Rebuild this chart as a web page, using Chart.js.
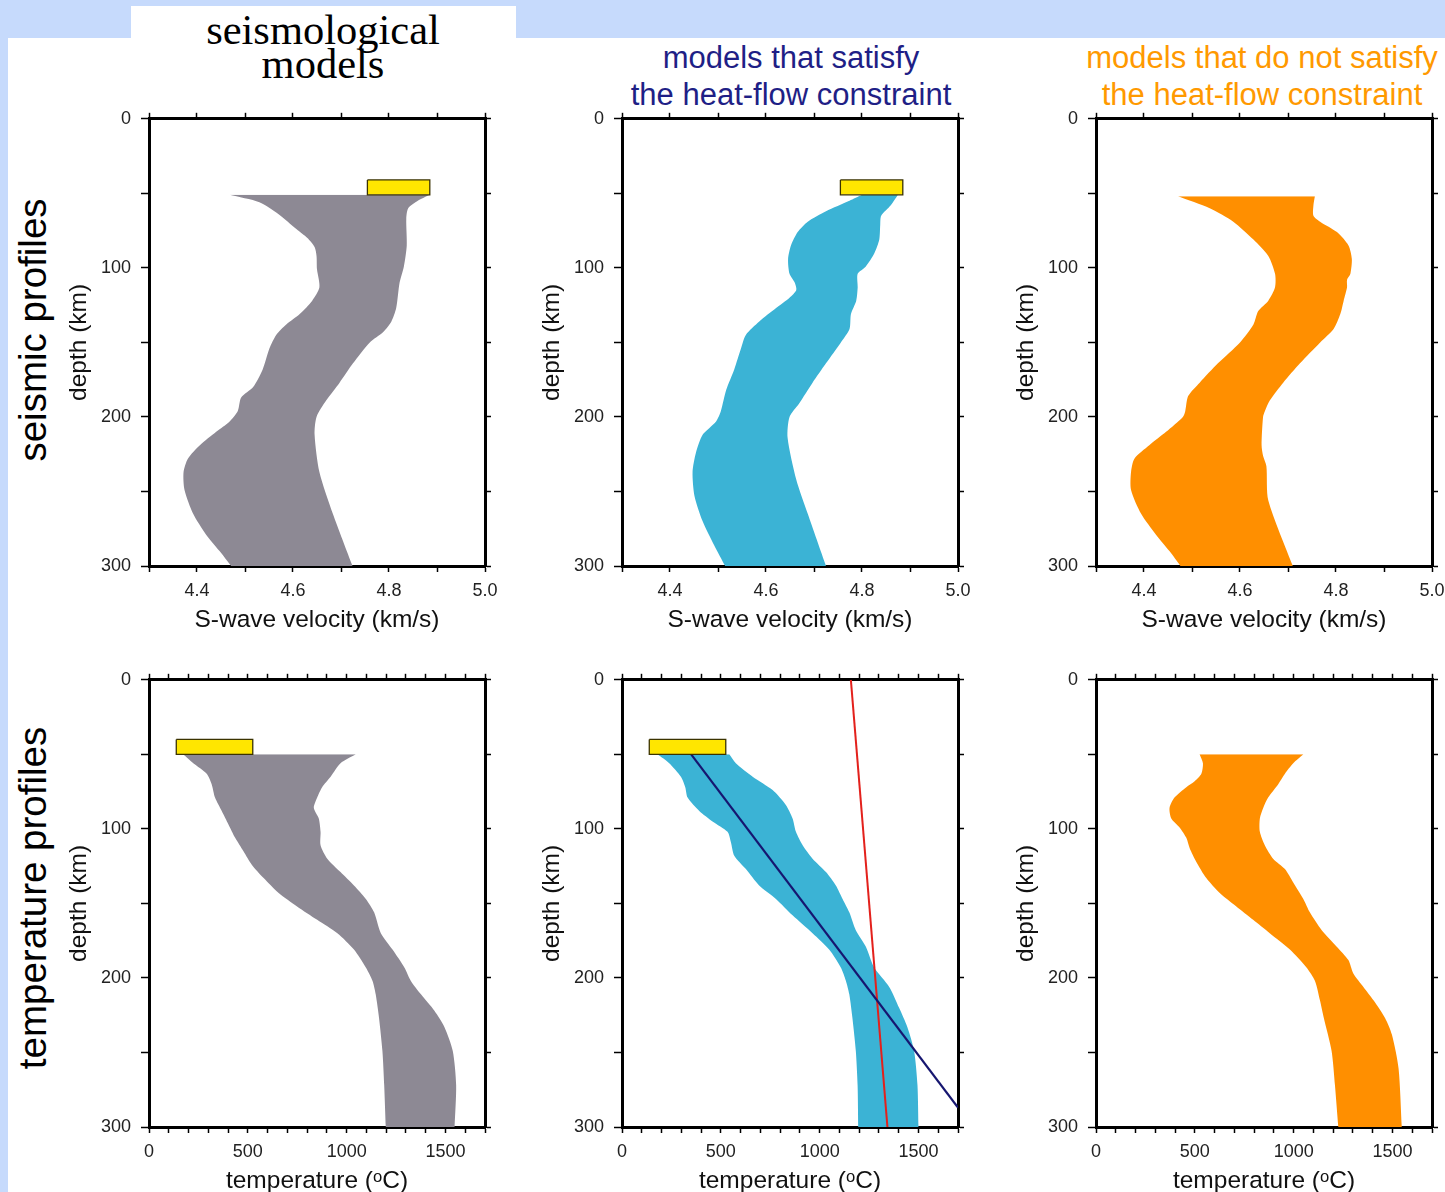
<!DOCTYPE html>
<html>
<head>
<meta charset="utf-8">
<script src="https://cdn.jsdelivr.net/npm/chart.js@4.4.1/dist/chart.umd.min.js"></script>
<style>
body { margin:0; width:1445px; height:1192px; overflow:hidden; background:#c6dafc; position:relative; font-family:"Liberation Sans", Arial, sans-serif; }
#sheet { position:absolute; left:8px; top:38px; right:0; bottom:0; background:#fff; }
#tab { position:absolute; left:131px; top:6px; width:385px; height:40px; background:#fff; }
.title { position:absolute; width:460px; text-align:center; white-space:nowrap; }
#t1 { font-family:"Liberation Serif", "Times New Roman", serif; font-size:42.5px; line-height:34px; left:93px; top:13px; color:#000; }
#t2 { font-size:31px; line-height:37px; left:561px; top:39px; color:#1f1f86; }
#t3 { font-size:31px; line-height:37px; left:1032px; top:39px; color:#ff9900; }
.row { position:absolute; left:33px; font-size:38.5px; color:#000; white-space:nowrap; transform:translate(-50%,-50%) rotate(-90deg); }
canvas { position:absolute; }
</style>
</head>
<body>
<div id="sheet"></div>
<div id="tab"></div>
<div class="title" id="t1">seismological<br>models</div>
<div class="title" id="t2">models that satisfy<br>the heat-flow constraint</div>
<div class="title" id="t3">models that do not satisfy<br>the heat-flow constraint</div>
<div class="row" style="top:330px">seismic profiles</div>
<div class="row" style="top:898px">temperature profiles</div>

<canvas id="c1" width="481" height="543"></canvas>
<canvas id="c2" width="481" height="543"></canvas>
<canvas id="c3" width="481" height="543"></canvas>
<canvas id="c4" width="481" height="543"></canvas>
<canvas id="c5" width="481" height="543"></canvas>
<canvas id="c6" width="481" height="543"></canvas>

<script>
// [depth km, S-wave velocity km/s] -- edges of each band
const grayVsLeft = [[51,4.468],[56,4.53],[64,4.57],[74,4.607],[80,4.63],[86,4.645],[92,4.649],[101,4.65],[113,4.655],[122,4.64],[131,4.614],[138,4.586],[145,4.565],[154,4.551],[168,4.537],[180,4.517],[187,4.492],[196,4.485],[203,4.468],[210,4.44],[219,4.406],[228,4.381],[237,4.372],[249,4.374],[265,4.392],[279,4.419],[290,4.447],[300,4.471]];
const grayVsRight = [[51,4.885],[55,4.86],[60,4.84],[67,4.836],[85,4.837],[99,4.831],[110,4.822],[127,4.815],[136,4.805],[143,4.788],[150,4.76],[164,4.725],[177,4.697],[189,4.669],[200,4.649],[212,4.645],[237,4.655],[265,4.683],[300,4.724]];

const blueVsLeft = [[51,4.80],[55,4.774],[62,4.725],[69,4.687],[76,4.666],[85,4.652],[94,4.646],[104,4.649],[110,4.66],[115,4.663],[120,4.649],[127,4.621],[136,4.586],[145,4.558],[154,4.548],[168,4.534],[182,4.517],[196,4.506],[203,4.496],[212,4.468],[224,4.454],[237,4.447],[253,4.451],[270,4.468],[286,4.492],[300,4.515]];
const blueVsRight = [[51,4.875],[58,4.86],[65,4.84],[71,4.838],[81,4.836],[90,4.826],[99,4.808],[104,4.791],[113,4.791],[122,4.788],[131,4.777],[141,4.774],[150,4.756],[164,4.725],[177,4.697],[191,4.669],[200,4.649],[214,4.645],[242,4.663],[265,4.687],[300,4.725]];

const orangeVsLeft = [[52,4.471],[60,4.537],[69,4.586],[81,4.628],[92,4.659],[104,4.673],[113,4.673],[122,4.659],[129,4.638],[138,4.628],[150,4.6],[164,4.554],[177,4.516],[186,4.492],[196,4.486],[200,4.481],[210,4.446],[219,4.411],[228,4.38],[237,4.373],[249,4.373],[265,4.394],[279,4.425],[290,4.453],[300,4.476]];
const orangeVsRight = [[52,4.756],[58,4.753],[65,4.753],[69,4.767],[76,4.802],[85,4.826],[94,4.833],[104,4.83],[108,4.823],[113,4.823],[122,4.816],[131,4.809],[141,4.795],[150,4.767],[164,4.725],[177,4.69],[189,4.662],[196,4.652],[200,4.648],[219,4.645],[226,4.648],[233,4.655],[256,4.659],[300,4.71]];

// [depth km, temperature C]
const grayTLeft = [[50,173],[56,224],[63,292],[70,317],[79,334],[88,368],[97,402],[106,436],[115,478],[124,520],[133,580],[143,656],[152,749],[161,851],[170,953],[181,1037],[193,1097],[202,1131],[211,1147],[227,1164],[249,1181],[272,1190],[300,1198]];
const grayTRight = [[50,1046],[56,969],[65,919],[72,876],[79,851],[86,834],[93,859],[102,868],[111,868],[120,902],[129,969],[138,1037],[147,1097],[156,1139],[170,1173],[181,1232],[193,1292],[202,1325],[211,1376],[222,1444],[233,1495],[249,1537],[272,1554],[300,1546]];

const blueTLeft = [[50,180],[56,239],[65,298],[72,320],[79,332],[88,391],[95,458],[102,534],[109,551],[118,568],[127,627],[138,694],[147,779],[158,863],[170,964],[181,1048],[193,1107],[202,1133],[211,1150],[227,1166],[249,1183],[272,1192],[300,1195]];
const blueTRight = [[50,543],[56,576],[65,661],[74,762],[84,829],[93,863],[102,880],[111,914],[120,964],[129,1032],[138,1082],[147,1116],[156,1150],[168,1183],[179,1234],[193,1276],[206,1352],[220,1402],[233,1444],[249,1478],[272,1495],[300,1500]];

const orangeTLeft = [[50,524],[56,541],[63,533],[68,499],[72,457],[79,397],[86,372],[93,381],[99,423],[106,457],[113,474],[122,507],[133,558],[143,626],[152,710],[161,795],[170,879],[181,981],[193,1065],[202,1108],[215,1133],[227,1153],[249,1192],[272,1209],[300,1226]];
const orangeTRight = [[50,1049],[56,998],[63,956],[70,922],[79,871],[86,846],[93,829],[102,829],[111,854],[120,896],[127,956],[136,998],[147,1049],[156,1082],[168,1142],[179,1218],[188,1277],[197,1302],[206,1353],[215,1404],[227,1463],[238,1497],[261,1531],[300,1547]];

const geotherm = [[50,350],[287,1700]];   // dark blue line
const adiabat = [[0,1158],[300,1343]];    // red line

// yellow boxes: [min, max] value, [top, bottom] depth
const vsBox = [4.755, 4.885];
const vsBoxDepth = [41, 51];
const tBox = [138, 525];
const tBoxDepth = [40, 50];

const vsRange = [4.3, 5.0];
const tRange = [0, 1700];
const depthRange = [0, 300];

Chart.defaults.font.family = '"Liberation Sans", Arial, sans-serif';
Chart.defaults.animation = false;

const COLS = [149, 622, 1096];
const ROWS = [118, 679];
const PW = 336, PH = 448;
const AXL = 120, AXT = 20, AXR = 25, AXB = 75;

function pts(arr){
    return arr.map(p => ({x: p[1], y: p[0]}));
}

function band(left, right, color){
    return [
        {data: pts(left), borderWidth: 0, pointRadius: 0, fill: false, tension: 0.25, order: 5},
        {data: pts(right), borderWidth: 0, pointRadius: 0, fill: '-1', backgroundColor: color, tension: 0.25, order: 5}
    ];
}

function box(xs, ds){
    return [
        {data: [{x: xs[0], y: ds[0]}, {x: xs[0], y: ds[1]}], borderWidth: 0, pointRadius: 0, fill: false, order: 2},
        {data: [{x: xs[1], y: ds[0]}, {x: xs[1], y: ds[1]}], borderWidth: 0, pointRadius: 0, fill: '-1', backgroundColor: '#ffe600', order: 2},
        {data: [{x: xs[0], y: ds[0]}, {x: xs[1], y: ds[0]}, {x: xs[1], y: ds[1]}, {x: xs[0], y: ds[1]}, {x: xs[0], y: ds[0]}],
         borderColor: '#3b3300', borderWidth: 1.3, pointRadius: 0, fill: false, tension: 0, order: 1}
    ];
}

function line(arr, color, w){
    return {data: pts(arr), borderColor: color, borderWidth: w, pointRadius: 0, fill: false, tension: 0, order: 3};
}

function valueAxis(pos, range, step, labelEvery, decimals, title){
    const bottom = pos === 'bottom';
    return {
        type: 'linear', position: pos, min: range[0], max: range[1],
        afterFit: s => { s.height = bottom ? AXB : AXT; },
        border: {display: true, color: '#000', width: 3},
        grid: {drawOnChartArea: false, tickLength: 6, tickColor: '#000', tickWidth: 1.5},
        ticks: {
            display: bottom, stepSize: step, autoSkip: false, maxRotation: 0, padding: 8,
            color: '#222', font: {size: 18},
            callback: v => (Math.round(v / step) % labelEvery === 0) ? v.toFixed(decimals) : ''
        },
        title: {display: bottom, text: title, color: '#111', font: {size: 24.5}, padding: {top: 0, bottom: 6}}
    };
}

function depthAxis(pos){
    const left = pos === 'left';
    return {
        type: 'linear', position: pos, reverse: true, min: depthRange[0], max: depthRange[1],
        afterFit: s => { s.width = left ? AXL : AXR; },
        border: {display: true, color: '#000', width: 3},
        grid: {drawOnChartArea: false, tickLength: left ? 8 : 6, tickColor: '#000', tickWidth: 1.5},
        ticks: {
            display: left, stepSize: 50, autoSkip: false, padding: 10, color: '#222', font: {size: 18},
            callback: v => v % 100 === 0 ? v : ''
        },
        title: {display: left, text: 'depth (km)', color: '#111', font: {size: 24.5}, padding: {top: 36, bottom: 0}}
    };
}

function panel(id, col, row, datasets, isTemp){
    const cv = document.getElementById(id);
    cv.style.left = (COLS[col] - AXL) + 'px';
    cv.style.top = (ROWS[row] - AXT) + 'px';
    const range = isTemp ? tRange : vsRange;
    const step = isTemp ? 100 : 0.1;
    const every = isTemp ? 5 : 2;
    const dec = isTemp ? 0 : 1;
    const title = isTemp ? 'temperature (\u1D52C)' : 'S-wave velocity (km/s)';
    new Chart(cv, {
        type: 'line',
        data: {datasets: datasets},
        options: {
            responsive: false,
            indexAxis: 'y',
            layout: {padding: 0},
            plugins: {legend: {display: false}, tooltip: {enabled: false}},
            scales: {
                x: valueAxis('bottom', range, step, every, dec, title),
                x2: valueAxis('top', range, step, every, dec, ''),
                y: depthAxis('left'),
                y2: depthAxis('right')
            }
        }
    });
}

const GRAY = '#8d8994';
const BLUE = '#3bb3d5';
const ORANGE = '#ff8f00';

panel('c1', 0, 0, [...box(vsBox, vsBoxDepth), ...band(grayVsLeft, grayVsRight, GRAY)], false);
panel('c2', 1, 0, [...box(vsBox, vsBoxDepth), ...band(blueVsLeft, blueVsRight, BLUE)], false);
panel('c3', 2, 0, [...band(orangeVsLeft, orangeVsRight, ORANGE)], false);
panel('c4', 0, 1, [...box(tBox, tBoxDepth), ...band(grayTLeft, grayTRight, GRAY)], true);
panel('c5', 1, 1, [...box(tBox, tBoxDepth), line(geotherm, '#161670', 2.2), line(adiabat, '#e3211c', 2), ...band(blueTLeft, blueTRight, BLUE)], true);
panel('c6', 2, 1, [...band(orangeTLeft, orangeTRight, ORANGE)], true);
</script>
</body>
</html>
